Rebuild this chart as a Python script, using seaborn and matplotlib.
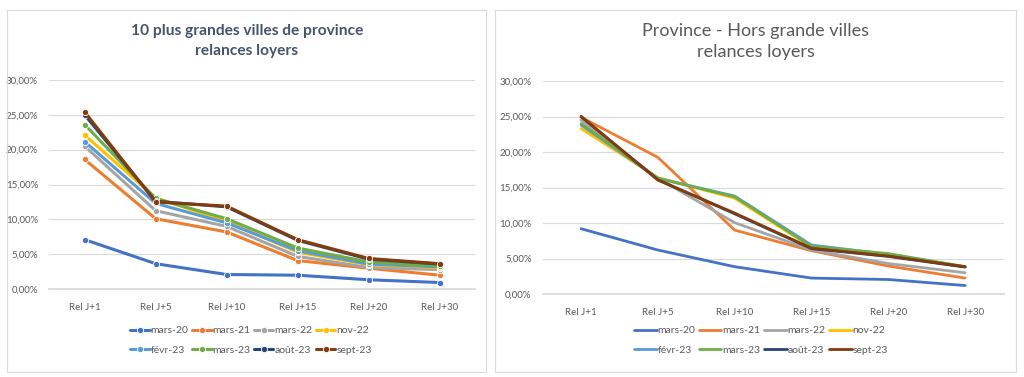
import pandas as pd
import numpy as np
import matplotlib.pyplot as plt
import seaborn as sns
from matplotlib.patches import Rectangle
from matplotlib.ticker import FuncFormatter

# Catégories et séries
etapes = ["Rel J+1", "Rel J+5", "Rel J+10", "Rel J+15", "Rel J+20", "Rel J+30"]
series = ["mars-20", "mars-21", "mars-22", "nov-22", "févr-23", "mars-23", "août-23", "sept-23"]
couleurs = ["#4472C4", "#ED7D31", "#A5A5A5", "#FFC000", "#5B9BD5", "#70AD47", "#264478", "#843C0C"]

# 10 plus grandes villes de province (%)
grandes_mars20 = [7.1, 3.65, 2.1, 2.0, 1.35, 0.95]
grandes_mars21 = [18.6, 10.1, 8.2, 4.1, 3.0, 2.0]
grandes_mars22 = [20.5, 11.25, 9.0, 4.7, 3.1, 2.8]
grandes_nov22 = [22.1, 13.1, 9.7, 5.3, 3.5, 3.1]
grandes_fevr23 = [21.15, 12.3, 9.5, 5.5, 3.6, 3.2]
grandes_mars23 = [23.6, 13.0, 10.1, 5.9, 3.9, 3.3]
grandes_aout23 = [25.0, 12.6, 11.8, 7.0, 4.3, 3.6]
grandes_sept23 = [25.4, 12.5, 11.9, 7.1, 4.4, 3.65]

# Province hors grandes villes (%)
hors_mars20 = [9.2, 6.2, 3.85, 2.25, 2.05, 1.2]
hors_mars21 = [24.9, 19.25, 9.0, 6.1, 3.95, 2.25]
hors_mars22 = [24.5, 16.3, 10.05, 6.2, 4.3, 3.0]
hors_nov22 = [23.3, 16.4, 13.5, 6.6, 5.5, 3.85]
hors_fevr23 = [23.8, 16.3, 13.8, 6.9, 5.6, 3.85]
hors_mars23 = [24.0, 16.3, 13.7, 6.7, 5.7, 3.85]
hors_aout23 = [25.0, 16.1, 11.3, 6.4, 5.3, 3.8]
hors_sept23 = [25.0, 16.05, 11.4, 6.45, 5.35, 3.85]

grandes = [grandes_mars20, grandes_mars21, grandes_mars22, grandes_nov22,
           grandes_fevr23, grandes_mars23, grandes_aout23, grandes_sept23]
hors = [hors_mars20, hors_mars21, hors_mars22, hors_nov22,
        hors_fevr23, hors_mars23, hors_aout23, hors_sept23]


def to_long(valeurs):
    rows = []
    for nom, vals in zip(series, valeurs):
        for i, v in enumerate(vals):
            rows.append({"etape": i, "serie": nom, "taux": v})
    return pd.DataFrame(rows)


sns.set_theme(style="white")
plt.rcParams['font.family'] = ['Lato', 'DejaVu Sans']

fig = plt.figure(figsize=(10.24, 3.77), dpi=100)
palette = dict(zip(series, couleurs))
gris = "#595959"
pct = FuncFormatter(lambda v, p: f"{v:.2f}".replace(".", ",") + "%")

# cadres des deux panneaux
for x0, w in [(7, 479), (495, 521)]:
    fig.patches.append(Rectangle((x0 / 1024, 5 / 377), w / 1024, 362 / 377,
                                 transform=fig.transFigure, fill=False,
                                 edgecolor="#D9D9D9", linewidth=0.8))


def style_axes(ax):
    ax.set_ylim(0, 30)
    ax.set_xlim(-0.5, 5.5)
    ax.set_yticks(np.arange(0, 31, 5))
    ax.yaxis.set_major_formatter(pct)
    ax.set_xticks(range(len(etapes)))
    ax.set_xticklabels(etapes)
    ax.grid(axis="y", color="#D9D9D9", linewidth=0.8)
    ax.set_axisbelow(True)
    for s in ["top", "right", "left"]:
        ax.spines[s].set_visible(False)
    ax.spines["bottom"].set_color("#D9D9D9")
    ax.tick_params(axis="both", length=0, labelsize=7, colors=gris, pad=10)
    ax.tick_params(axis="y", pad=8)
    ax.set_xlabel("")
    ax.set_ylabel("")


def legende(ax, x, hl):
    h, l = ax.get_legend_handles_labels()
    ax.get_legend().remove()
    # remplissage par ligne (4 par ligne)
    ordre = [0, 4, 1, 5, 2, 6, 3, 7]
    fig.legend([h[i] for i in ordre], [l[i] for i in ordre], loc="center",
               bbox_to_anchor=(x, 0.097), ncol=4, frameon=False, fontsize=7.5,
               labelcolor=gris, handlelength=hl, handletextpad=0.1,
               columnspacing=0.3, labelspacing=1.0)


# Panneau gauche
ax1 = fig.add_axes([0.048, 0.233, 0.416, 0.555])
sns.lineplot(data=to_long(grandes), x="etape", y="taux", hue="serie",
             palette=palette, marker="o", markersize=4.5, markeredgecolor="white",
             markeredgewidth=0.6, linewidth=2.2, ax=ax1, legend=True)
style_axes(ax1)
legende(ax1, 0.245, 1.9)
fig.text(0.241, 0.891, "10 plus grandes villes de province\nrelances loyers",
         ha="center", va="center", fontsize=11.2, fontweight="bold",
         color="#44546A", linespacing=1.6)

# Panneau droit
ax2 = fig.add_axes([0.530, 0.220, 0.450, 0.565])
sns.lineplot(data=to_long(hors), x="etape", y="taux", hue="serie",
             palette=palette, linewidth=2.0, ax=ax2, legend=True)
style_axes(ax2)
legende(ax2, 0.743, 2.2)
fig.text(0.738, 0.89, "Province - Hors grande villes\nrelances loyers",
         ha="center", va="center", fontsize=13, color=gris, linespacing=1.45)

fig.savefig("out.png", dpi=100)
